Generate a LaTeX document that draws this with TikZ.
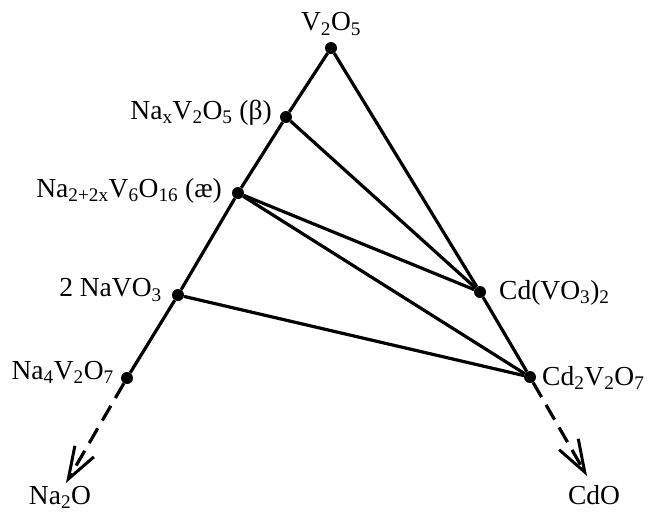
\documentclass[tikz,border=0pt]{standalone}
\usepackage{fontspec}
\setmainfont{Liberation Serif}
\usetikzlibrary{arrows.meta,positioning}
\newcommand{\sbs}[1]{\textsubscript{#1}}

\begin{document}
\begin{tikzpicture}[x=1pt,y=-1pt,
  phase/.style={circle,fill=black,inner sep=0pt,minimum size=12pt},
  lbl/.style={font=\fontsize{27.5}{30}\selectfont,inner sep=0pt},
  tie/.style={line width=3.2pt},
  ext/.style={line width=3.2pt,dash pattern=on 17pt off 9pt,
    -{Straight Barb[length=32pt,width=22pt,line width=3pt]}}
]
  \useasboundingbox (0,0) rectangle (649,512);
  % compounds
  \node[phase] (v2o5) at (331,48) {};
  \node[phase] (beta) at (286,117) {};
  \node[phase] (ae) at (238,193) {};
  \node[phase] (navo) at (178,295) {};
  \node[phase] (na4) at (127,378) {};
  \node[phase] (cdvo) at (480,292) {};
  \node[phase] (cd2) at (530,377) {};
  \coordinate (na2o) at (66,483);
  \coordinate (cdo) at (587,476);
  % labels
  \node[lbl] at (331,24) {V\sbs{2}O\sbs{5}};
  \node[lbl,anchor=east] at (272,113) {Na\sbs{x}V\sbs{2}O\sbs{5} (β)};
  \node[lbl,anchor=east] at (222,191) {Na\sbs{2+2x}V\sbs{6}O\sbs{16} (æ)};
  \node[lbl,anchor=east] at (162,290) {2 NaVO\sbs{3}};
  \node[lbl,anchor=east] at (114,372) {Na\sbs{4}V\sbs{2}O\sbs{7}};
  \node[lbl,anchor=west] at (499,293) {Cd(VO\sbs{3})\sbs{2}};
  \node[lbl,anchor=west] at (542,378) {Cd\sbs{2}V\sbs{2}O\sbs{7}};
  \node[lbl] at (60,497) {Na\sbs{2}O};
  \node[lbl] at (594,495) {CdO};
  % tie lines
  \draw[tie] (v2o5) -- (beta) -- (ae) -- (navo) -- (na4);
  \draw[tie] (v2o5) -- (cdvo) -- (cd2);
  \draw[tie] (beta) -- (cdvo);
  \draw[tie] (ae) -- (cdvo);
  \draw[tie] (ae) -- (cd2);
  \draw[tie] (navo) -- (cd2);
  \draw[ext] (na4) -- (na2o);
  \draw[ext] (cd2) -- (cdo);
\end{tikzpicture}
\end{document}
